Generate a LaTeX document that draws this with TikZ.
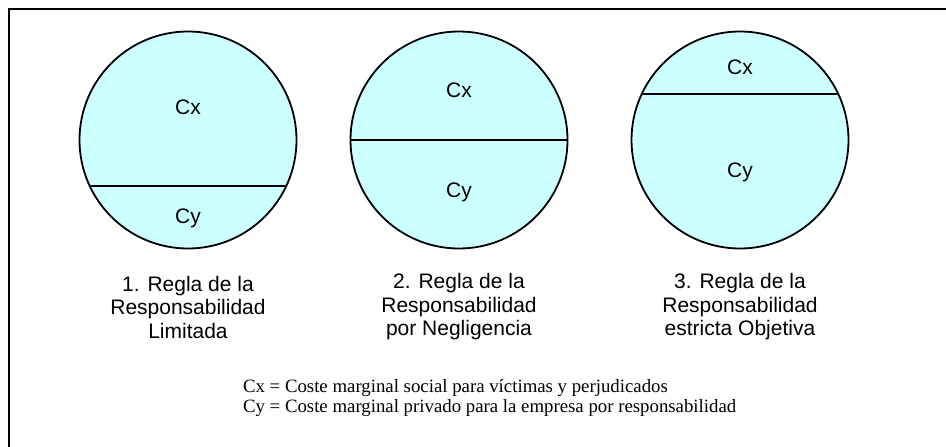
\documentclass[tikz,border=0pt]{standalone}
\usepackage{fontspec}
\setmainfont{Liberation Sans}
\newfontfamily\notefont{Liberation Serif}
\definecolor{cyanfill}{HTML}{CCFFFF}
\usetikzlibrary{positioning}

\begin{document}
\begin{tikzpicture}[x=0.5pt,y=0.5pt,
  main/.style = {draw, circle, fill=cyanfill, line width=0.9pt, minimum size=108.5pt, inner sep=0pt},
  part/.style = {font=\fontsize{10.5}{12}\selectfont},
  rule/.style = {font=\fontsize{10.5}{11.75}\selectfont, align=center},
  note/.style = {font=\notefont\fontsize{9.4}{8.5}\selectfont, align=left, anchor=west},
  node distance={83.5pt}]
\useasboundingbox (0,0) rectangle (946,446);
\draw[line width=1pt] (9,-20) rectangle (975,437);
\node[main] (1) at (188,306) {};
\node[main] (2) at (459,306) {};
\node[main] (3) at (740,306) {};
\draw[line width=0.9pt] (1.205.5) -- (1.-25.5);
\draw[line width=0.9pt] (2.west) -- (2.east);
\draw[line width=0.9pt] (3.155) -- (3.25);
\node[part] (1x) at (188,339) {Cx};
\node[part] (1y) at (188,228) {Cy};
\node[part] (2x) at (459,356) {Cx};
\node[part] (2y) at (459,254) {Cy};
\node[part] (3x) at (740,379) {Cx};
\node[part] (3y) at (740,274) {Cy};
\node[rule] (r1) [below of=1] {1. Regla de la\\Responsabilidad\\Limitada};
\node[rule] (r2) [below of=2] {2. Regla de la\\Responsabilidad\\por Negligencia};
\node[rule] (r3) [below of=3] {3. Regla de la\\Responsabilidad\\estricta Objetiva};
\node[note] (nota) at (236,48) {Cx = Coste marginal social para víctimas y perjudicados\\Cy = Coste marginal privado para la empresa por responsabilidad};
\end{tikzpicture}
\end{document}
